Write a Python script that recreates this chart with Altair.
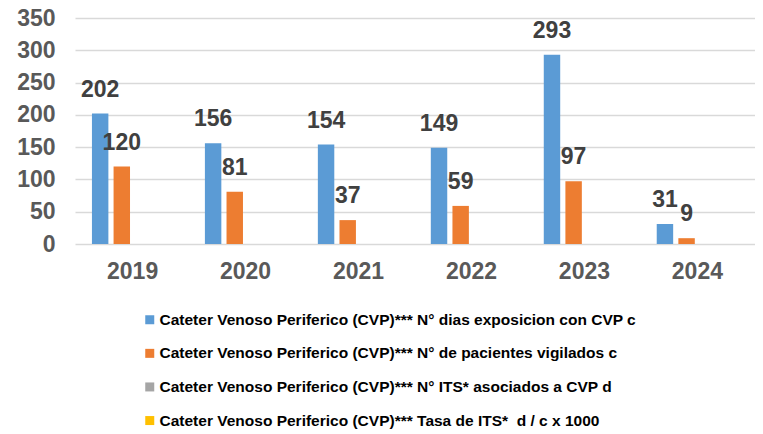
import altair as alt
import pandas as pd

years = ["2019", "2020", "2021", "2022", "2023", "2024"]
series = [
    "Cateter Venoso Periferico (CVP)*** N° dias exposicion con CVP c",
    "Cateter Venoso Periferico (CVP)*** N° de pacientes vigilados c",
    "Cateter Venoso Periferico (CVP)*** N° ITS* asociados a CVP d",
    "Cateter Venoso Periferico (CVP)*** Tasa de ITS*\u00a0 d / c x 1000",
]
dias = [202, 156, 154, 149, 293, 31]
pacientes = [120, 81, 37, 59, 97, 9]
its = [0, 0, 0, 0, 0, 0]
tasa = [0, 0, 0, 0, 0, 0]
colors = ["#5B9BD5", "#ED7D31", "#A5A5A5", "#FFC000"]

rows = []
for vals, s in zip([dias, pacientes, its, tasa], series):
    for y, v in zip(years, vals):
        rows.append({"year": y, "series": s, "value": v})
df = pd.DataFrame(rows)

FONT = "Liberation Sans"

x = alt.X("year:N", sort=years, title=None,
          scale=alt.Scale(paddingInner=0.28, paddingOuter=0.15),
          axis=alt.Axis(labelAngle=0, labelFont=FONT, labelFontSize=23,
                        labelFontWeight="bold", labelColor="#595959",
                        ticks=False, domain=False, labelPadding=16))
xoff = alt.XOffset("series:N", sort=series,
                   scale=alt.Scale(paddingInner=0.24, paddingOuter=0))
y = alt.Y("value:Q", title=None,
          scale=alt.Scale(domain=[0, 350], nice=False),
          axis=alt.Axis(values=[0, 50, 100, 150, 200, 250, 300, 350],
                        labelFont=FONT, labelFontSize=23, labelFontWeight="bold",
                        labelColor="#595959", ticks=False, domain=False,
                        labelPadding=20, gridColor="#d9d9d9", gridWidth=1.5))
color = alt.Color("series:N", sort=series,
                  scale=alt.Scale(domain=series, range=colors),
                  legend=alt.Legend(title=None, orient="none", legendX=67, legendY=294,
                                    direction="vertical", symbolType="square",
                                    symbolSize=81, symbolStrokeWidth=0,
                                    labelFont=FONT, labelFontSize=15.5,
                                    labelFontWeight="bold", labelColor="#000000",
                                    labelLimit=800, rowPadding=16.6, padding=0,
                                    labelOffset=2))

bars = alt.Chart(df).mark_bar().encode(x=x, xOffset=xoff, y=y, color=color)

labels = alt.Chart(df).transform_filter("datum.value > 0").mark_text(
    baseline="bottom", dy=-12, font=FONT, fontSize=23, fontWeight="bold",
    color="#404040"
).encode(x=x, xOffset=xoff, y=y, text=alt.Text("value:Q"))

chart = alt.layer(bars, labels).properties(
    width=680, height=226,
    autosize=alt.AutoSizeParams(type="none"),
    padding={"left": 67, "top": 10, "right": 0, "bottom": 185},
).configure_view(stroke=None)

chart.save("out.html", embed_options={"renderer": "svg", "actions": False})
